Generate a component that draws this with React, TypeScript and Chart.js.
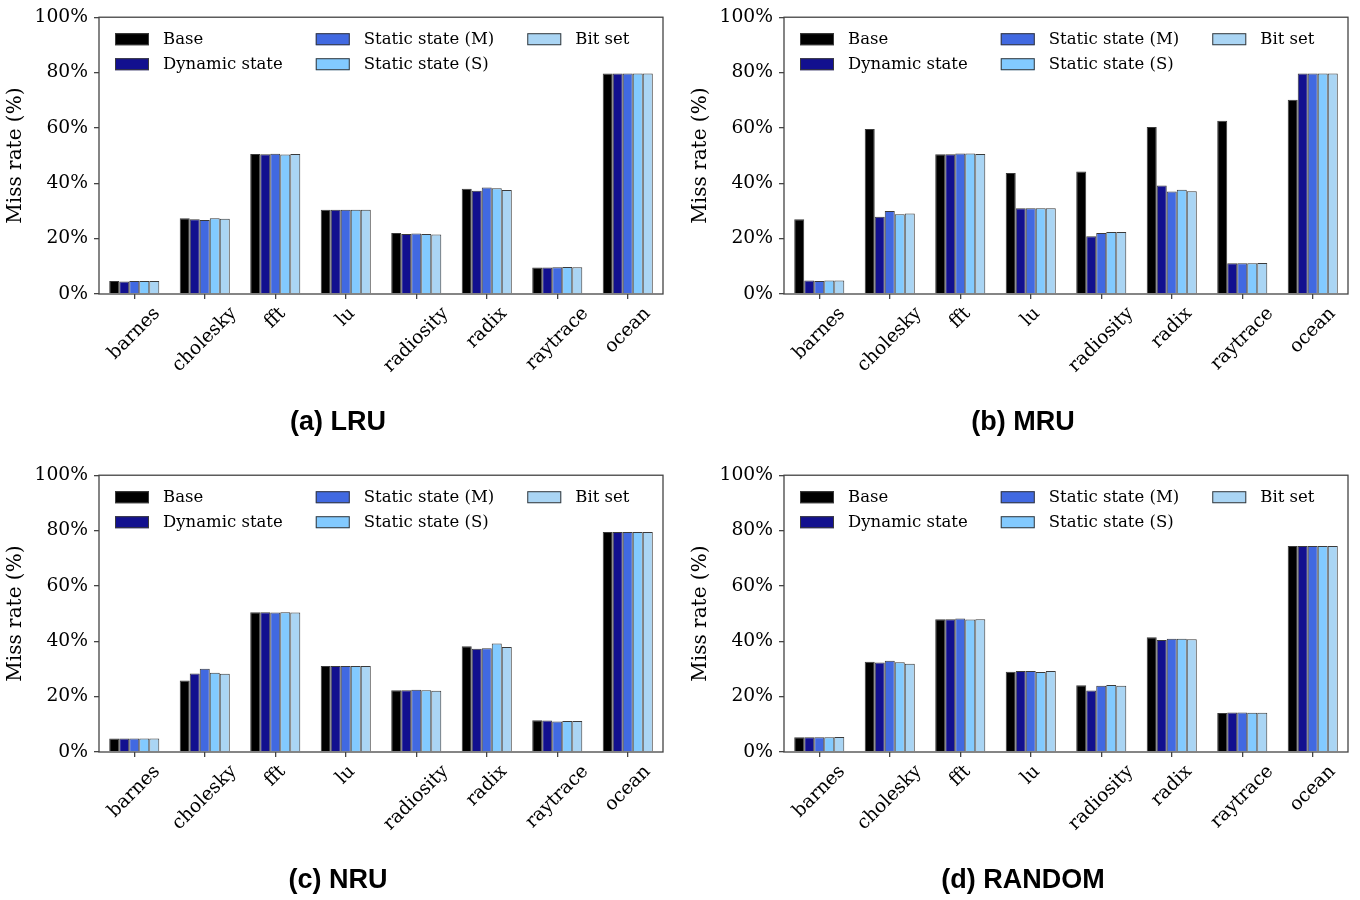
import React, { useEffect, useRef } from 'react';
import { Chart, registerables } from 'chart.js';

Chart.register(...registerables);

// ---------- data ----------
const categories = ['barnes', 'cholesky', 'fft', 'lu', 'radiosity', 'radix', 'raytrace', 'ocean'];
const seriesNames = ['Base', 'Dynamic state', 'Static state (M)', 'Static state (S)', 'Bit set'];
const seriesColors = ['#000000', '#12108F', '#4169E1', '#82CAFF', '#AAD5F4'];
const yTicks = [0, 20, 40, 60, 80, 100];
const panelTitles = ['(a) LRU', '(b) MRU', '(c) NRU', '(d) RANDOM'];
const yAxisTitle = 'Miss rate (%)';

const lruBase = [4.7, 27.4, 50.6, 30.4, 22.0, 38.0, 9.6, 79.7];
const lruDynamic = [4.5, 27.0, 50.5, 30.4, 21.7, 37.3, 9.6, 79.7];
const lruStaticM = [4.7, 26.7, 50.7, 30.4, 21.9, 38.5, 9.7, 79.7];
const lruStaticS = [4.7, 27.4, 50.4, 30.4, 21.7, 38.2, 9.8, 79.7];
const lruBitSet = [4.7, 27.2, 50.6, 30.4, 21.5, 37.6, 9.7, 79.7];

const mruBase = [27.0, 59.6, 50.5, 43.7, 44.3, 60.3, 62.6, 70.2];
const mruDynamic = [4.9, 27.9, 50.5, 31.0, 20.9, 39.2, 11.1, 79.7];
const mruStaticM = [4.7, 30.0, 50.8, 31.0, 22.0, 37.0, 11.1, 79.7];
const mruStaticS = [4.9, 28.8, 50.8, 31.0, 22.4, 37.7, 11.1, 79.7];
const mruBitSet = [4.9, 29.1, 50.6, 31.0, 22.4, 37.1, 11.2, 79.7];

const nruBase = [4.9, 25.8, 50.5, 31.1, 22.3, 38.2, 11.5, 79.5];
const nruDynamic = [4.9, 28.4, 50.5, 31.1, 22.3, 37.3, 11.4, 79.5];
const nruStaticM = [4.9, 30.1, 50.4, 31.1, 22.5, 37.5, 11.0, 79.5];
const nruStaticS = [4.9, 28.6, 50.5, 31.1, 22.3, 39.2, 11.2, 79.5];
const nruBitSet = [4.9, 28.3, 50.4, 31.1, 22.1, 37.9, 11.2, 79.5];

const randomBase = [5.3, 32.6, 48.0, 29.0, 24.1, 41.5, 14.1, 74.4];
const randomDynamic = [5.3, 32.3, 48.0, 29.3, 22.2, 40.5, 14.3, 74.4];
const randomStaticM = [5.3, 33.0, 48.2, 29.3, 23.9, 40.9, 14.3, 74.4];
const randomStaticS = [5.3, 32.4, 47.9, 28.9, 24.2, 40.9, 14.2, 74.4];
const randomBitSet = [5.4, 31.9, 48.0, 29.3, 23.9, 40.7, 14.2, 74.4];

const panelSeries = [
  [lruBase, lruDynamic, lruStaticM, lruStaticS, lruBitSet],
  [mruBase, mruDynamic, mruStaticM, mruStaticS, mruBitSet],
  [nruBase, nruDynamic, nruStaticM, nruStaticS, nruBitSet],
  [randomBase, randomDynamic, randomStaticM, randomStaticS, randomBitSet],
];

// ---------- styling / layout ----------
const SERIF = "'DejaVu Serif', 'Liberation Serif', serif";
const TITLE_FONT = "bold 27px 'Liberation Sans', Arial, sans-serif";
const AXIS_COLOR = '#444444';
const EDGE_COLOR = '#3a3a3a';

const panelBoxes = [
  { left: 0, top: 0, width: 680, height: 442, rightPad: 17 },
  { left: 685, top: 0, width: 675, height: 442, rightPad: 12 },
  { left: 0, top: 458, width: 680, height: 442, rightPad: 17 },
  { left: 685, top: 458, width: 675, height: 442, rightPad: 12 },
];

function makeDecorPlugin(title: string) {
  return {
    id: 'decor',
    afterDatasetsDraw(chart: any) {
      const { ctx, chartArea: a } = chart;
      ctx.save();
      ctx.strokeStyle = AXIS_COLOR;
      ctx.lineWidth = 1.3;
      ctx.strokeRect(a.left, a.top, a.right - a.left, a.bottom - a.top);
      ctx.restore();
    },
    afterDraw(chart: any) {
      const { ctx, chartArea: a } = chart;
      ctx.save();

      // legend (column-major, 3 columns) inside plot area
      ctx.font = `16.5px ${SERIF}`;
      ctx.textAlign = 'left';
      ctx.textBaseline = 'middle';
      const ds = chart.data.datasets;
      const cols = [[0, 1], [2, 3], [4]];
      let x = a.left + 16;
      cols.forEach((col) => {
        let maxW = 0;
        col.forEach((si, r) => {
          const y = a.top + 22 + r * 25;
          ctx.fillStyle = ds[si].backgroundColor;
          ctx.fillRect(x, y - 6, 34, 12);
          ctx.strokeStyle = EDGE_COLOR;
          ctx.lineWidth = 1;
          ctx.strokeRect(x + 0.5, y - 5.5, 33, 11);
          ctx.fillStyle = '#000';
          ctx.fillText(ds[si].label, x + 48, y);
          maxW = Math.max(maxW, ctx.measureText(ds[si].label).width);
        });
        x += 48 + maxW + 33;
      });

      // rotated category labels, centred on ticks
      const xs = chart.scales.x;
      const fs = 18.7;
      ctx.font = `${fs}px ${SERIF}`;
      ctx.fillStyle = '#000';
      const h = fs * 1.164;
      chart.data.labels.forEach((lab: string, i: number) => {
        const px = xs.getPixelForTick(i);
        const L = ctx.measureText(lab).width;
        const half = ((L + h) * Math.SQRT1_2) / 2;
        const cy = a.bottom + 9 + half;
        ctx.save();
        ctx.translate(px, cy);
        ctx.rotate(-Math.PI / 4);
        ctx.textAlign = 'center';
        ctx.textBaseline = 'middle';
        ctx.fillText(lab, 0, 0);
        ctx.restore();
      });

      // panel caption
      ctx.font = TITLE_FONT;
      ctx.textAlign = 'center';
      ctx.textBaseline = 'middle';
      ctx.fillStyle = '#000';
      ctx.fillText(title, 338, 423);
      ctx.restore();
    },
  };
}

function Panel({ index }: { index: number }) {
  const ref = useRef<HTMLCanvasElement | null>(null);
  const box = panelBoxes[index];

  useEffect(() => {
    if (!ref.current) return;
    const series = panelSeries[index];
    const chart = new Chart(ref.current, {
      type: 'bar',
      data: {
        labels: categories,
        datasets: series.map((vals, si) => ({
          label: seriesNames[si],
          data: vals,
          backgroundColor: seriesColors[si],
          borderColor: EDGE_COLOR,
          borderWidth: 1,
          categoryPercentage: 0.71,
          barPercentage: 1.0,
        })),
      },
      options: {
        animation: false,
        responsive: false,
        maintainAspectRatio: false,
        devicePixelRatio: 1,
        layout: { padding: { top: 15, right: box.rightPad, left: 0, bottom: 0 } },
        plugins: {
          legend: { display: false },
          title: { display: false },
          tooltip: { enabled: false },
        },
        scales: {
          x: {
            type: 'category',
            offset: true,
            grid: {
              offset: false,
              drawOnChartArea: false,
              drawTicks: true,
              tickLength: 5,
              color: AXIS_COLOR,
              lineWidth: 1.3,
            },
            border: { display: false },
            ticks: { display: false },
            afterFit: (s: any) => {
              s.height = 148;
            },
          },
          y: {
            type: 'linear',
            min: 0,
            max: 100,
            afterBuildTicks: (s: any) => {
              s.ticks = yTicks.map((v) => ({ value: v }));
            },
            ticks: {
              callback: (v: any) => `${v}%`,
              font: { family: SERIF, size: 18.7 },
              color: '#000',
              padding: 6,
            },
            grid: {
              drawOnChartArea: false,
              drawTicks: true,
              tickLength: 5,
              color: AXIS_COLOR,
              lineWidth: 1.3,
            },
            border: { display: false },
            title: {
              display: true,
              text: yAxisTitle,
              font: { family: SERIF, size: 20 },
              color: '#000',
              padding: { top: 4, bottom: 4 },
            },
            afterFit: (s: any) => {
              s.width = 99;
            },
          },
        },
      },
      plugins: [makeDecorPlugin(panelTitles[index])],
    } as any);
    return () => chart.destroy();
  }, [index]);

  return (
    <canvas
      ref={ref}
      width={box.width}
      height={box.height}
      style={{
        position: 'absolute',
        left: box.left,
        top: box.top,
        width: box.width,
        height: box.height,
      }}
    />
  );
}

export default function App() {
  return (
    <div
      style={{
        position: 'absolute',
        left: 0,
        top: 0,
        width: 1360,
        height: 900,
        background: '#ffffff',
        overflow: 'hidden',
      }}
    >
      {panelTitles.map((_, i) => (
        <Panel key={i} index={i} />
      ))}
    </div>
  );
}
